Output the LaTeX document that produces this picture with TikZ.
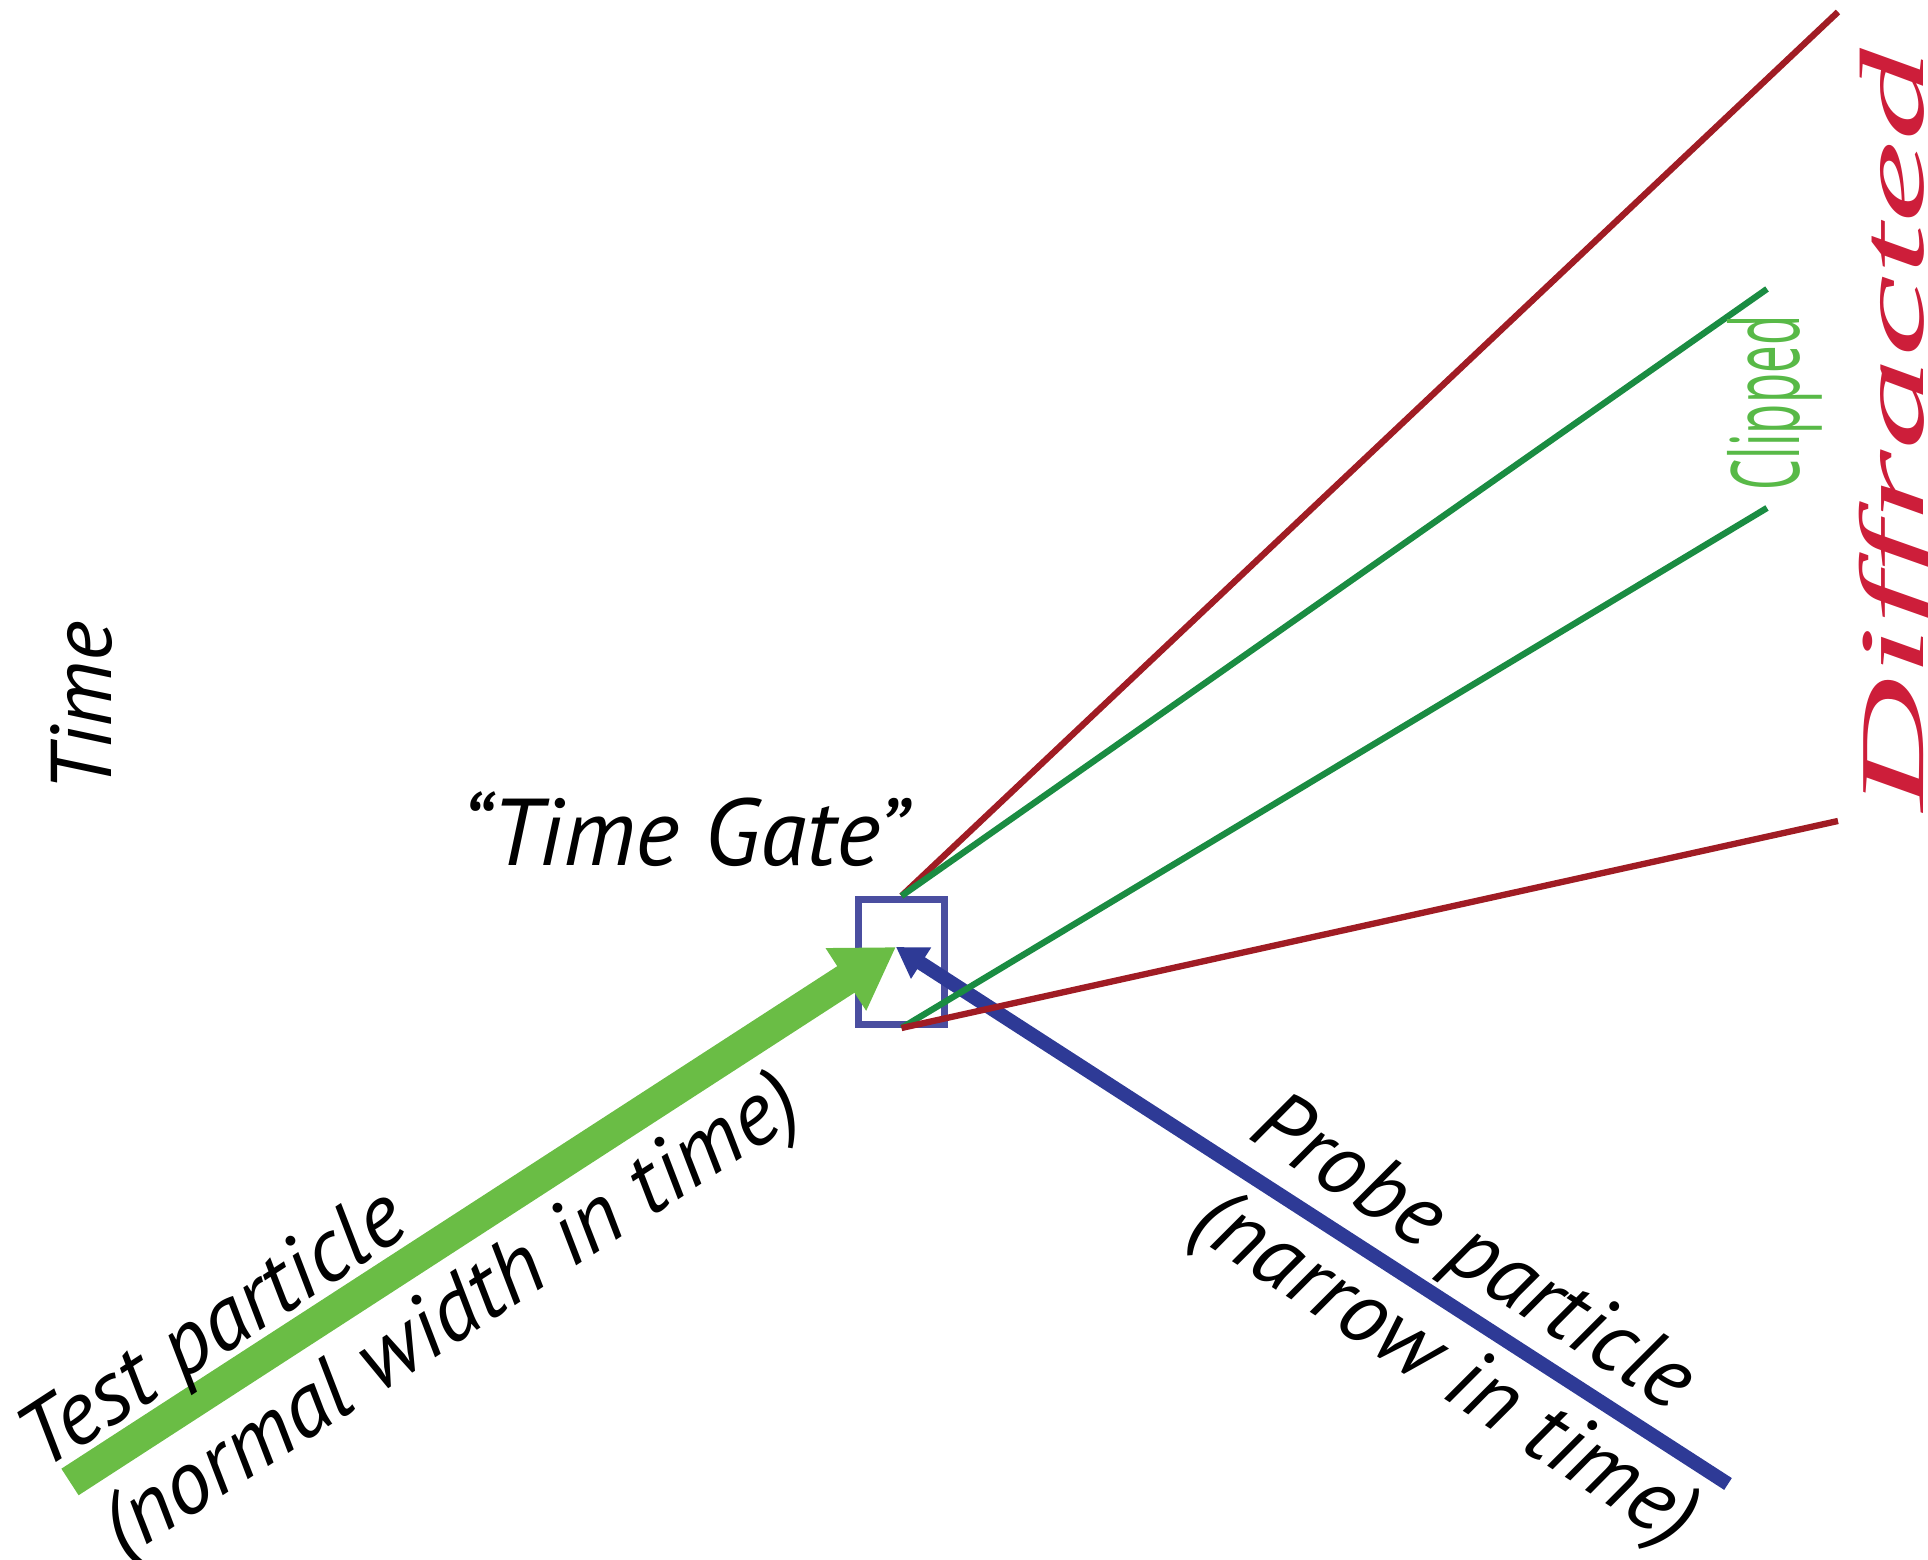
\documentclass[tikz,border=0pt]{standalone}
\usepackage{fontspec}
\usepackage{graphicx}
\usetikzlibrary{arrows.meta,positioning}
\newfontfamily\labelfont{PT Sans}
\newfontfamily\clipfont{Open Sans}
\newfontfamily\diffont{Liberation Serif}
\definecolor{testgreen}{RGB}{106,189,69}
\definecolor{probeblue}{RGB}{46,58,150}
\definecolor{gateblue}{RGB}{74,78,160}
\definecolor{linegreen}{RGB}{26,140,66}
\definecolor{linered}{RGB}{160,28,36}
\definecolor{clipgreen}{RGB}{88,185,71}
\definecolor{diffred}{RGB}{205,30,58}

\begin{document}
\begin{tikzpicture}[
	gatebox/.style={draw=gateblue, line width=2pt, minimum width=0.86cm, minimum height=1.25cm, inner sep=0pt},
	testline/.style={testgreen, line width=9pt, -{Triangle[length=17pt,width=20pt]}},
	probeline/.style={probeblue, line width=4pt, -{Triangle[length=8.5pt,width=10pt]}},
	outline/.style={line width=1.8pt},
	lbl/.style={font=\labelfont\itshape\fontsize{25.5}{30}\selectfont, inner sep=0pt}]
			\path[use as bounding box] (0,0) rectangle (19.28,15.60);
			\clip (0,0) rectangle (19.28,15.60);
			% gate and the two incoming particles
			\node[gatebox] (gate) at (9.015,5.98) {};
			\coordinate (hit) at (8.96,6.13);
			\coordinate (teststart) at (0.70,0.78);
			\coordinate (probestart) at (17.28,0.76);
			\draw[testline] (teststart) -- (hit);
			\draw[probeline] (probestart) -- (hit);
			% outgoing lines
			\coordinate (r1) at (18.38,15.48);
			\coordinate (g1) at (17.67,12.71);
			\coordinate (g2) at (17.67,10.52);
			\coordinate (r2) at (18.38,7.39);
			\foreach \from/\to/\col in {gate.north/r1/linered, gate.north/g1/linegreen, gate.south/g2/linegreen, gate.south/r2/linered}
			\draw[outline, \col] (\from) -- (\to);
			% labels
			\node[lbl, font=\labelfont\itshape\fontsize{27}{32}\selectfont] (gatelbl) at (6.84,7.31) {“Time Gate”};
			\node[lbl, rotate=90, font=\labelfont\itshape\fontsize{24.5}{28}\selectfont] (timelbl) at (0.82,8.53) {Time};
			\node[lbl, rotate=33] (testlbl) at (2.15,2.27) {Test particle};
			\node[lbl, rotate=33] (testsub) at (4.53,2.40) {(normal width in time)};
			\node[lbl, rotate=-33] (probelbl) at (14.71,3.04) {Probe particle};
			\node[lbl, rotate=-33] (probesub) at (14.43,1.88) {(narrow in time)};
			\node[inner sep=0pt, rotate=90, text=clipgreen, font=\clipfont\fontsize{27}{30}\selectfont] (cliplbl) at (17.75,11.57) {\scalebox{0.52}[1]{Clipped}};
			\node[inner sep=0pt, rotate=90, anchor=base, text=diffred, font=\diffont\itshape\fontsize{26}{30}\selectfont] (difflbl) at (19.23,11.30) {\scalebox{2.03}[1]{Diffracted}};
\end{tikzpicture}
\end{document}
